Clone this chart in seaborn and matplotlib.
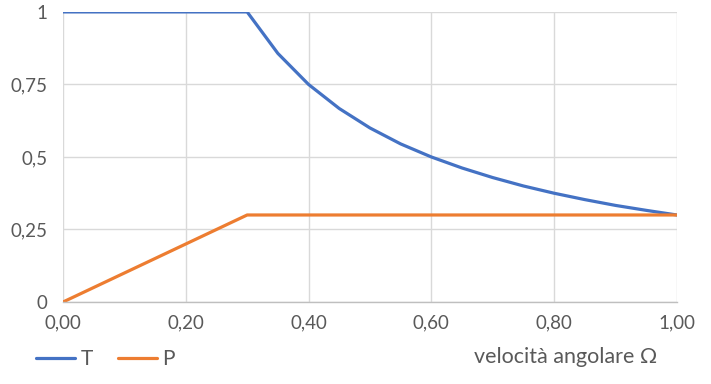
import pandas as pd
import seaborn as sns
import matplotlib.pyplot as plt

# values
omega = [0.00, 0.05, 0.10, 0.15, 0.20, 0.25, 0.30, 0.35, 0.40, 0.45, 0.50,
         0.55, 0.60, 0.65, 0.70, 0.75, 0.80, 0.85, 0.90, 0.95, 1.00]
T_vals = [1, 1, 1, 1, 1, 1, 1, 0.857, 0.75, 0.667, 0.6,
          0.545, 0.5, 0.462, 0.429, 0.4, 0.375, 0.353, 0.333, 0.316, 0.3]
P_vals = [0, 0.05, 0.1, 0.15, 0.2, 0.25, 0.3, 0.3, 0.3, 0.3, 0.3,
          0.3, 0.3, 0.3, 0.3, 0.3, 0.3, 0.3, 0.3, 0.3, 0.3]
x_ticks = [0.0, 0.2, 0.4, 0.6, 0.8, 1.0]
y_ticks = [0, 0.25, 0.5, 0.75, 1]
y_labels = ['0', '0,25', '0,5', '0,75', '1']

df = pd.DataFrame({'omega': omega * 2,
                   'value': T_vals + P_vals,
                   'serie': ['T'] * len(omega) + ['P'] * len(omega)})

sns.set_style('white')
plt.rcParams['font.family'] = ['Lato', 'DejaVu Sans']
text_col = '#595959'

fig = plt.figure(figsize=(7.11, 3.84), dpi=100)
ax = fig.add_axes([0.0886, 0.2135, 0.8634, 0.7555])

sns.lineplot(data=df, x='omega', y='value', hue='serie',
             palette={'T': '#4472C4', 'P': '#ED7D31'},
             linewidth=2.3, ax=ax, legend=False)

ax.set_xlim(0, 1)
ax.set_ylim(0, 1)
ax.set_xticks(x_ticks)
ax.set_xticklabels([f'{v:.2f}'.replace('.', ',') for v in x_ticks])
ax.set_yticks(y_ticks)
ax.set_yticklabels(y_labels)
ax.tick_params(axis='both', length=0, labelsize=13.5, colors=text_col)
ax.tick_params(axis='x', pad=9)
ax.tick_params(axis='y', pad=11)
ax.grid(True, color='#d9d9d9', linewidth=1)
ax.set_axisbelow(True)
for s in ['top', 'right', 'left']:
    ax.spines[s].set_visible(False)
ax.spines['bottom'].set_color('#bfbfbf')
ax.spines['bottom'].set_linewidth(1)
ax.set_xlabel('')
ax.set_ylabel('')

fig.text(0.795, 0.07, 'velocità angolare Ω', ha='center', va='center',
         fontsize=15.5, color=text_col)

handles = [plt.Line2D([], [], color='#4472C4', lw=2.3),
           plt.Line2D([], [], color='#ED7D31', lw=2.3)]
fig.legend(handles, ['T', 'P'], loc='center left', bbox_to_anchor=(0.05, 0.065),
           ncol=2, frameon=False, fontsize=15, labelcolor=text_col,
           handlelength=1.9, handletextpad=0.25, columnspacing=1.2,
           borderaxespad=0, borderpad=0)

fig.savefig('out.png', dpi=100)
